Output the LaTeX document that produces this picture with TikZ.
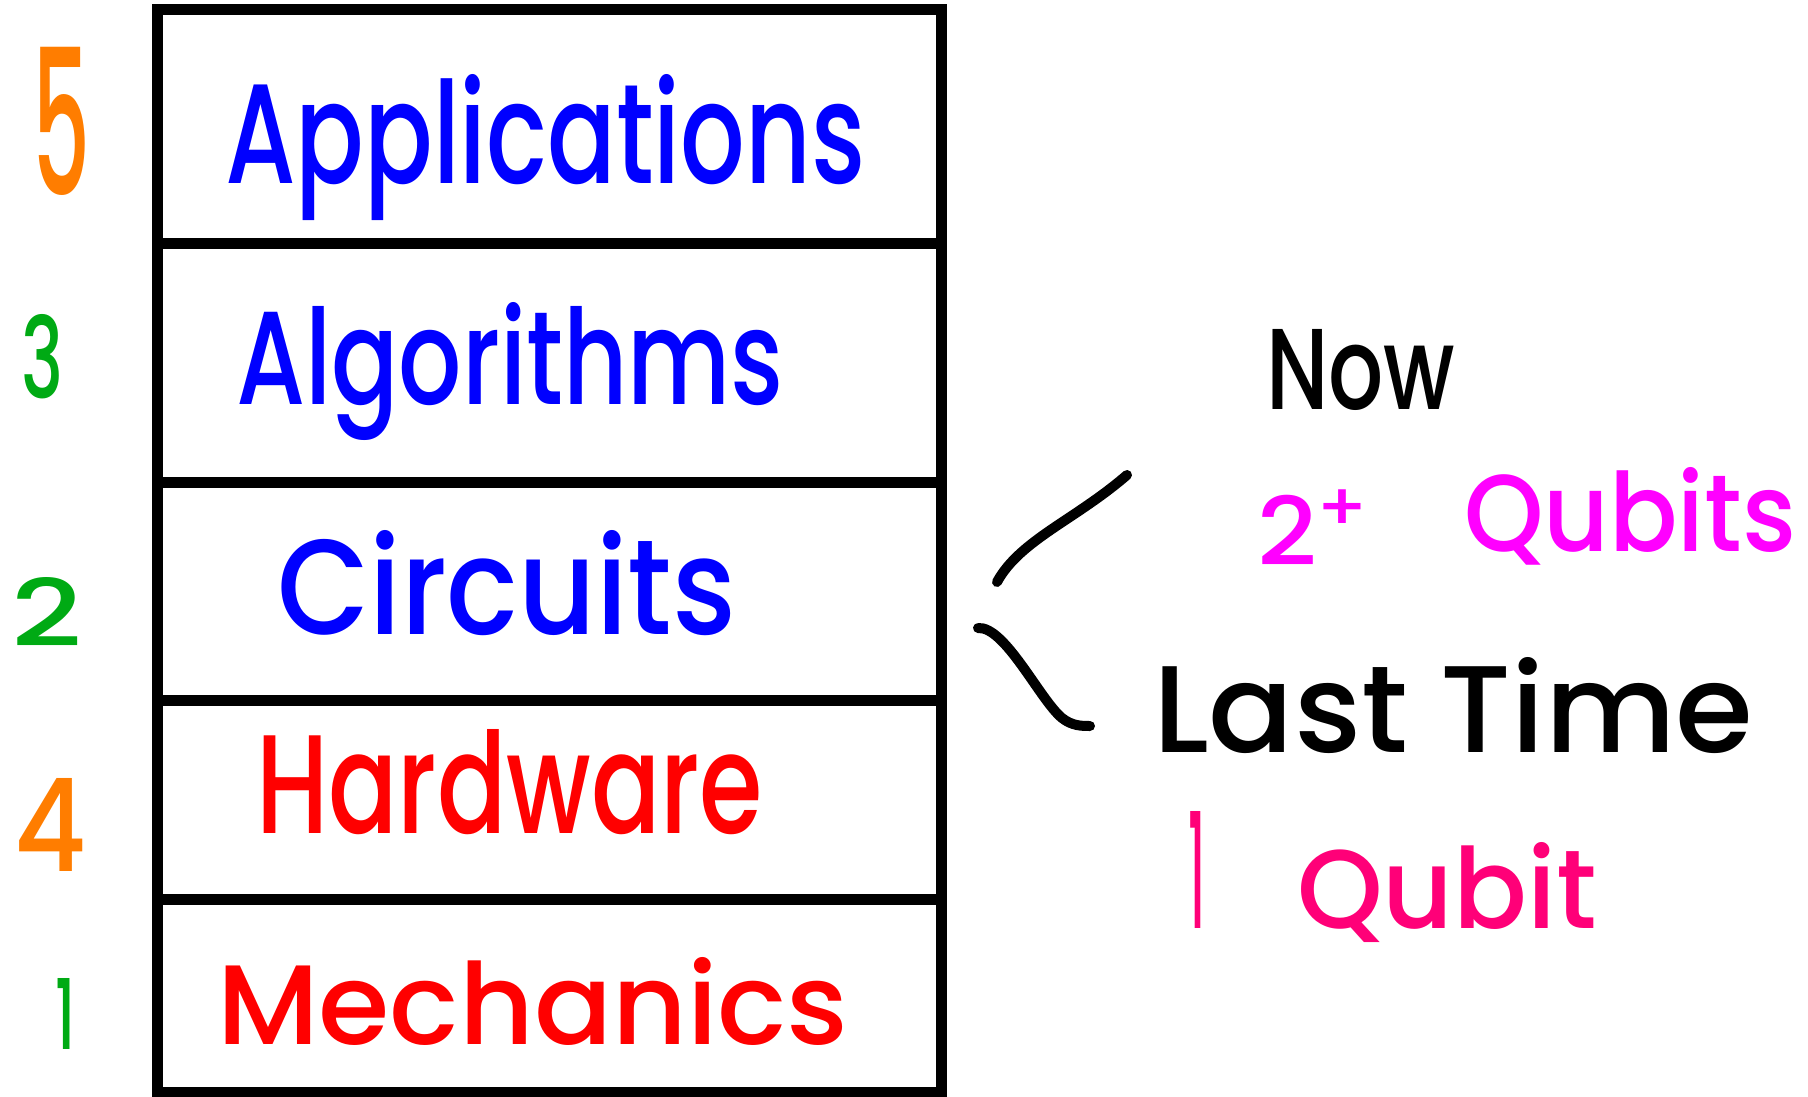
\documentclass[tikz,border=0pt]{standalone}
\usepackage{fontspec}
\newfontfamily\handfont{Poppins Medium}
\definecolor{hblue}{RGB}{0,0,255}
\definecolor{hred}{RGB}{255,0,0}
\definecolor{horange}{RGB}{255,125,0}
\definecolor{hgreen}{RGB}{0,170,20}
\definecolor{hmagenta}{RGB}{255,0,255}
\definecolor{hpink}{RGB}{255,0,120}
\newcommand{\hw}[3]{\resizebox{#1pt}{#2pt}{\handfont #3}}
\begin{document}
\begin{tikzpicture}[x=1pt,y=-1pt,
  lbl/.style={anchor=base west,inner sep=0pt,outer sep=0pt},
  frame/.style={draw=black,line width=11pt},
  stroke/.style={draw=black,line width=10pt,line cap=round,line join=round}]
\useasboundingbox (0,0) rectangle (1808,1097);
% layer box
\draw[frame] (157,10) rectangle (941,1092);
\foreach \yy in {243,482,700,899} \draw[frame] (157,\yy) -- (941,\yy);
% left numbers
\node[lbl,text=horange] (n5) at (32,196) {\hw{58}{148}{5}};
\node[lbl,text=hgreen]  (n3) at (21,398) {\hw{42}{84}{3}};
\node[lbl,text=hgreen]  (n2) at (12,646) {\hw{71}{69}{2}};
\node[lbl,text=horange] (n4) at (14,871) {\hw{72}{93}{4}};
\node[lbl,text=hgreen]  (n1) at (55,1049) {\hw{20}{71}{1}};
% layer names
\node[lbl,text=hblue] (app) at (225,184) {\hw{640}{109}{Applications}};
\node[lbl,text=hblue] (alg) at (236,404) {\hw{548}{102}{Algorithms}};
\node[lbl,text=hblue] (cir) at (277,634) {\hw{459}{104}{Circuits}};
\node[lbl,text=hred]  (hwr) at (256,833) {\hw{507}{104}{Hardware}};
\node[lbl,text=hred]  (mec) at (217,1044) {\hw{631}{87}{Mechanics}};
% right side
\node[lbl,text=black] (now) at (1266,409) {\hw{189}{80}{Now}};
\node[lbl,text=hmagenta] (two) at (1257,565) {\hw{117}{75}{2\textsuperscript{+}}};
\node[lbl,text=hmagenta] (qbs) at (1464,551) {\hw{332}{84}{Qubits}};
\node[lbl,text=black] (last) at (1153,752) {\hw{600}{95}{Last Time}};
\node[lbl,text=hpink] (one) at (1188,928) {\hw{17}{117}{1}};
\node[lbl,text=hpink] (qb) at (1297,928) {\hw{300}{86}{Qubit}};
% brace strokes
\coordinate (ua) at (997,582);
\coordinate (ub) at (1127,475);
\coordinate (la) at (978,628);
\coordinate (lb) at (1090,726);
\draw[stroke] (ua) .. controls (1020,540) and (1075,520) .. (ub);
\draw[stroke] (la) .. controls (1005,626) and (1040,700) .. (1062,718) .. controls (1072,726) and (1082,726) .. (lb);
\end{tikzpicture}
\end{document}
